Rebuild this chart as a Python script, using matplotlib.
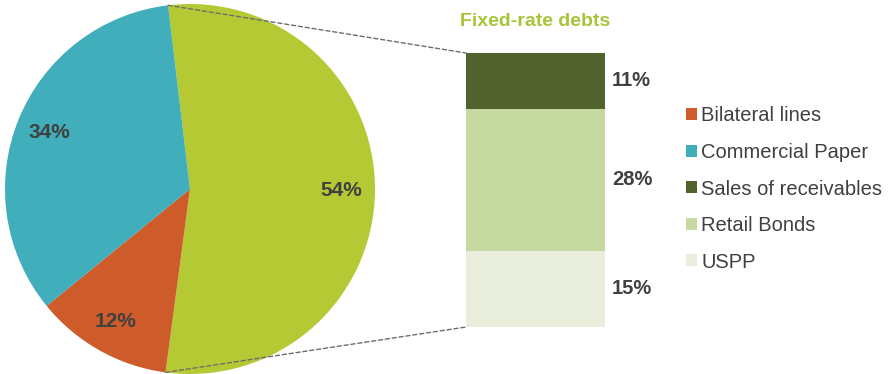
import numpy as np
import matplotlib
matplotlib.use("Agg")
import matplotlib.pyplot as plt
from matplotlib.patches import ConnectionPatch

plt.rcParams['font.family'] = ['Liberation Sans', 'DejaVu Sans']

# Data
pie_labels = ['Fixed-rate debts', 'Bilateral lines', 'Commercial Paper']
pie_values = [54, 12, 34]
pie_colors = ['#b4c934', '#cd5c2a', '#40aebb']

bar_labels = ['USPP', 'Retail Bonds', 'Sales of receivables']
bar_values = [15, 28, 11]
bar_colors = ['#e9eedc', '#c5d9a0', '#52622e']

title = 'Fixed-rate debts'
text_color = '#404040'

W, H = 890, 374
fig = plt.figure(figsize=(W / 100, H / 100), dpi=100)

# Pie axes
cx, cy, r = 190, 189, 185
ax_pie = fig.add_axes([(cx - r) / W, (H - cy - r) / H, 2 * r / W, 2 * r / H])
start = 96.8
wedges, _, autotexts = ax_pie.pie(
    pie_values, colors=pie_colors, startangle=start, counterclock=False,
    autopct=lambda p: f'{p:.0f}%', pctdistance=0.82, radius=1,
    textprops=dict(color=text_color, fontsize=15, fontweight='bold'))
ax_pie.set_xlim(-1, 1)
ax_pie.set_ylim(-1, 1)
ax_pie.set_aspect('equal')
ax_pie.axis('off')

# Bar axes
bx0, bx1, by_top, by_bot = 466, 605, 53, 327
ax_bar = fig.add_axes([bx0 / W, (H - by_bot) / H, (bx1 - bx0) / W, (by_bot - by_top) / H])
total = sum(bar_values)
bottom = 0
bars = []
for lab, v, c in zip(bar_labels, bar_values, bar_colors):
    b = ax_bar.bar(0, v, width=1, bottom=bottom, color=c, align='edge', label=lab)
    bars.append(b)
    ax_bar.text(1.05, bottom + v / 2, f'{v}%', ha='left', va='center',
                color=text_color, fontsize=14.5, fontweight='bold')
    bottom += v
ax_bar.set_xlim(0, 1)
ax_bar.set_ylim(0, total)
ax_bar.axis('off')
ax_bar.text(0.5, total + 6.2, title, ha='center', va='center', color='#a8c43a',
            fontsize=14, fontweight='bold')

# Connectors
theta1 = np.deg2rad(start)
theta2 = np.deg2rad(start - 360 * pie_values[0] / sum(pie_values))
for th, yb in [(theta1, total), (theta2, 0)]:
    con = ConnectionPatch(xyA=(np.cos(th), np.sin(th)), coordsA=ax_pie.transData,
                          xyB=(0, yb), coordsB=ax_bar.transData,
                          color='#6e6e66', linestyle=(0, (3, 2)), linewidth=1)
    fig.add_artist(con)

# Legend
handles = [wedges[1], wedges[2], bars[2], bars[1], bars[0]]
labels = [pie_labels[1], pie_labels[2], bar_labels[2], bar_labels[1], bar_labels[0]]
fig.legend(handles, labels, loc='center left', bbox_to_anchor=(686 / W, 1 - 189 / H),
           frameon=False, fontsize=14.5, handlelength=0.55, handleheight=0.55,
           handletextpad=0.2, labelspacing=0.87, borderpad=0, borderaxespad=0,
           labelcolor=text_color)

fig.savefig('out.png', dpi=100)
